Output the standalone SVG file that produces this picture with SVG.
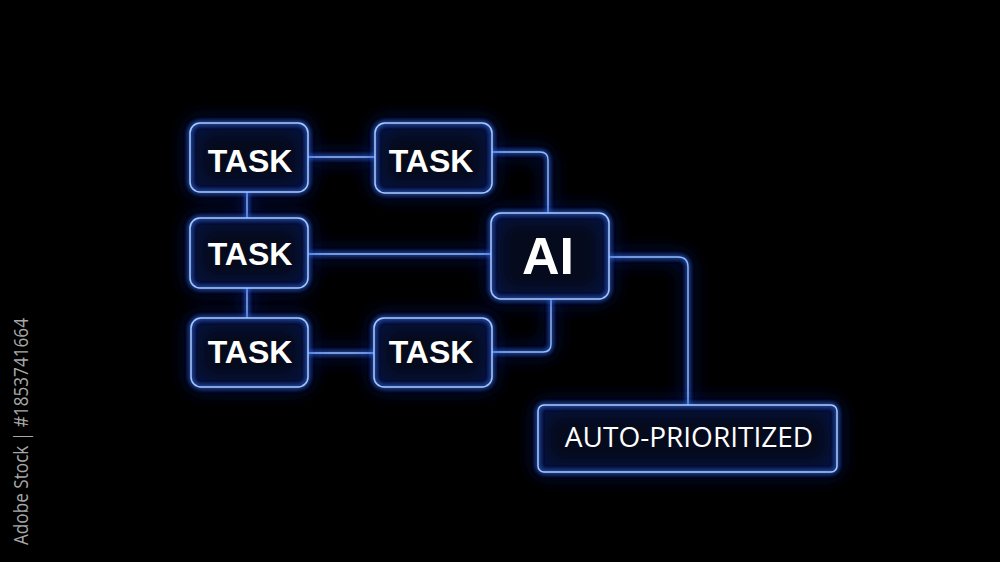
<svg xmlns="http://www.w3.org/2000/svg" width="1000" height="562" viewBox="0 0 1000 562">
<defs>
<filter id="neon" filterUnits="userSpaceOnUse" x="0" y="0" width="1000" height="562">
<feGaussianBlur in="SourceAlpha" stdDeviation="2.5" result="b1"/>
<feFlood flood-color="#3a78ff" flood-opacity="1"/>
<feComposite in2="b1" operator="in" result="g1"/>
<feGaussianBlur in="SourceAlpha" stdDeviation="10" result="b2"/>
<feFlood flood-color="#1d4dff" flood-opacity="1"/>
<feComposite in2="b2" operator="in" result="g2"/>
<feMerge><feMergeNode in="g2"/><feMergeNode in="g2"/><feMergeNode in="g1"/><feMergeNode in="g1"/><feMergeNode in="SourceGraphic"/></feMerge>
</filter>
</defs>
<style>
.fill{fill:#050b1c;stroke:none}
.edge{fill:none;stroke:#a6c8ff;stroke-width:1.5;filter:url(#neon)}
.wire{fill:none;stroke:#8fbaff;stroke-width:1.4;filter:url(#neon)}
.task{font-family:"Liberation Sans",Arial,sans-serif;font-weight:bold;font-size:32px;fill:#ffffff;text-anchor:middle}
.ai{font-family:"Liberation Sans",Arial,sans-serif;font-weight:bold;font-size:52px;fill:#ffffff;text-anchor:middle}
.auto{font-family:"Open Sans","Liberation Sans",sans-serif;font-size:28px;fill:#ffffff;text-anchor:middle}
.wm{font-family:"Open Sans","Liberation Sans",sans-serif;font-size:20px;fill:#a8a8a8}
</style>
<rect x="0" y="0" width="1000" height="562" fill="#000000"/>
<g id="connectors">
<path class="wire" d="M308 157 H375"/>
<path class="wire" d="M247 192 V218"/>
<path class="wire" d="M308 254 H491"/>
<path class="wire" d="M247 288 V318"/>
<path class="wire" d="M308 353 H374"/>
<path class="wire" d="M492 152 H540 Q548 152 548 160 V213"/>
<path class="wire" d="M551 299 V344 Q551 352 543 352 H492"/>
<path class="wire" d="M609 257 H678 Q688 257 688 267 V405"/>
</g>
<g id="task1">
<rect class="fill" x="190" y="123" width="118" height="69" rx="10"/>
<rect class="edge" x="190" y="123" width="118" height="69" rx="10"/>
<text class="task" x="250" y="172">TASK</text>
</g>
<g id="task2">
<rect class="fill" x="375" y="123" width="117" height="70" rx="10"/>
<rect class="edge" x="375" y="123" width="117" height="70" rx="10"/>
<text class="task" x="431" y="172">TASK</text>
</g>
<g id="task3">
<rect class="fill" x="190" y="218" width="118" height="70" rx="10"/>
<rect class="edge" x="190" y="218" width="118" height="70" rx="10"/>
<text class="task" x="250" y="265">TASK</text>
</g>
<g id="task4">
<rect class="fill" x="191" y="318" width="117" height="69" rx="10"/>
<rect class="edge" x="191" y="318" width="117" height="69" rx="10"/>
<text class="task" x="250" y="363">TASK</text>
</g>
<g id="task5">
<rect class="fill" x="374" y="318" width="118" height="69" rx="10"/>
<rect class="edge" x="374" y="318" width="118" height="69" rx="10"/>
<text class="task" x="431" y="363">TASK</text>
</g>
<g id="ai">
<rect class="fill" x="491" y="213" width="118" height="86" rx="10"/>
<rect class="edge" x="491" y="213" width="118" height="86" rx="10"/>
<text class="ai" x="548" y="274">AI</text>
</g>
<g id="auto-prioritized">
<rect class="fill" x="538" y="405" width="299" height="67" rx="6"/>
<rect class="edge" x="538" y="405" width="299" height="67" rx="6"/>
<text class="auto" x="689" y="447">AUTO-PRIORITIZED</text>
</g>
<text class="wm" transform="translate(28,545) rotate(-90)" x="0" y="0" textLength="227" lengthAdjust="spacingAndGlyphs">Adobe Stock | #1853741664</text>
</svg>
